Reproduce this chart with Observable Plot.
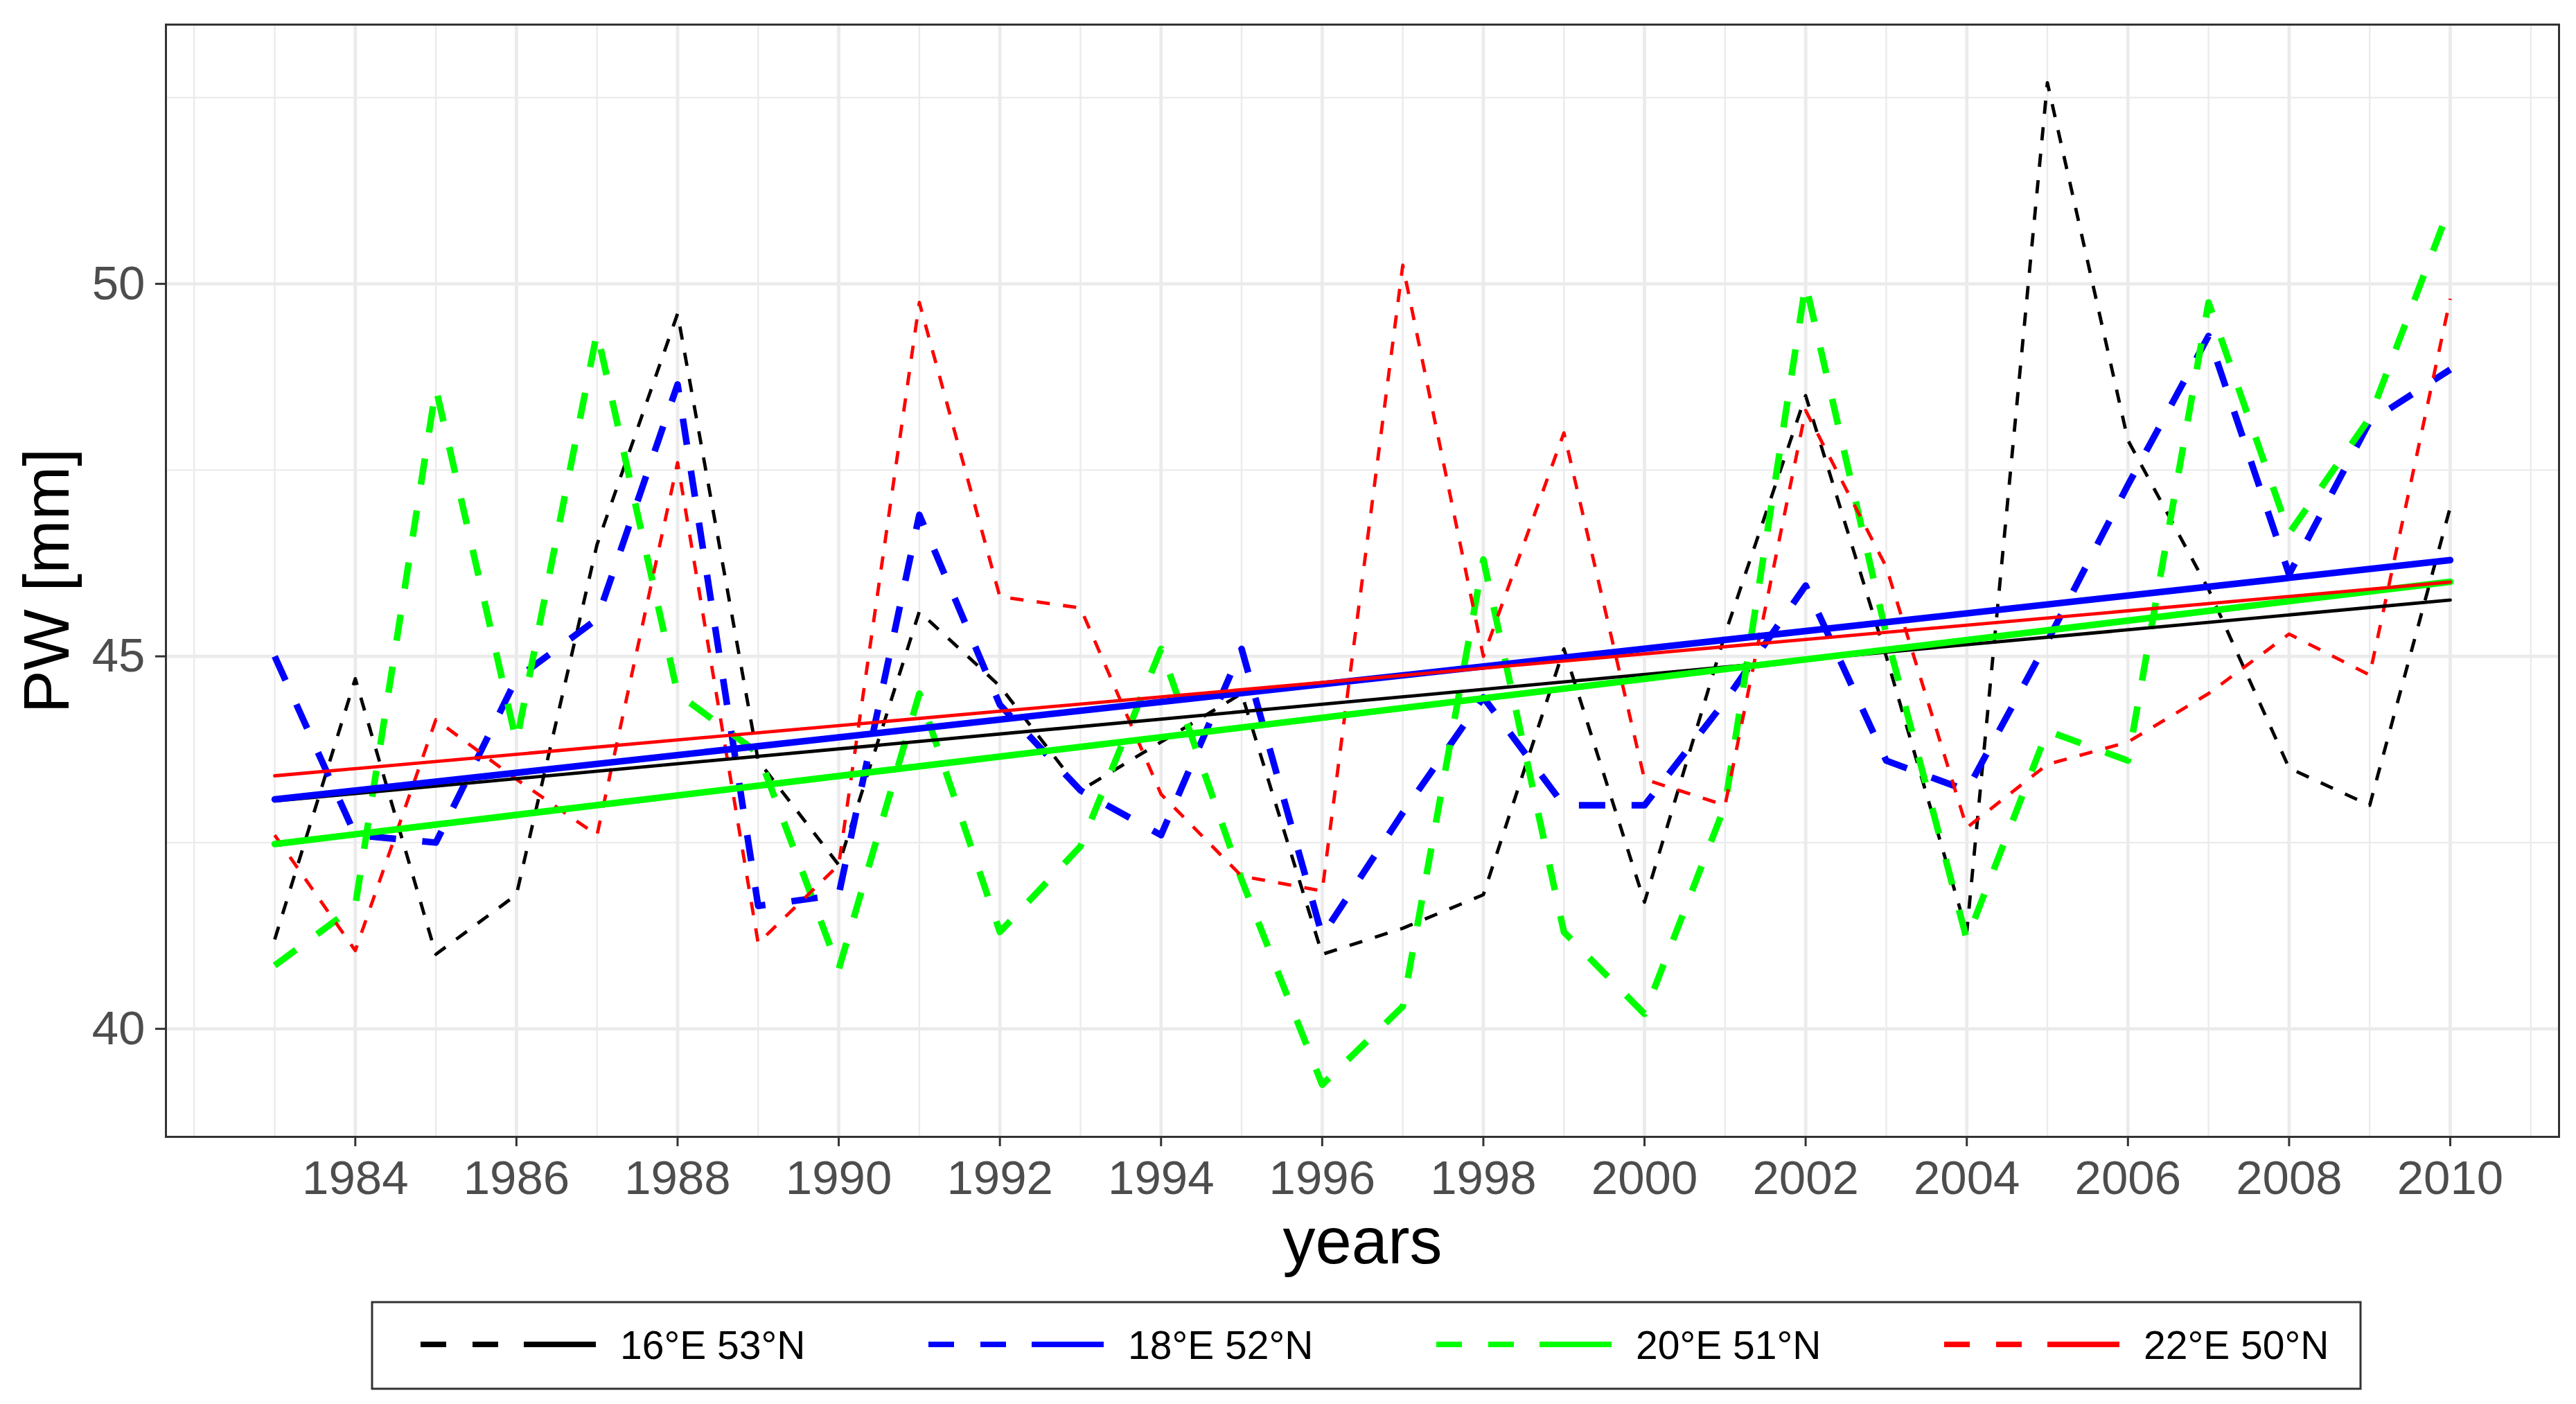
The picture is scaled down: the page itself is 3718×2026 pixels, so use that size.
<!DOCTYPE html>
<html><head><meta charset="utf-8">
<script src="https://cdn.jsdelivr.net/npm/d3@7"></script>
<script src="https://cdn.jsdelivr.net/npm/@observablehq/plot@0.6"></script>
<style>
html,body{margin:0;padding:0;background:#fff;}
#wrap{position:relative;width:3718px;height:2026px;overflow:hidden;background:#fff;font-family:"Liberation Sans",Arial,sans-serif;}
#legend{position:absolute;left:0;top:1860px;}
</style>
</head><body><div id="wrap"><div id="chart"></div><div id="legend"></div></div>
<script>
const years = [1983,1984,1985,1986,1987,1988,1989,1990,1991,1992,1993,1994,1995,1996,1997,1998,1999,2000,2001,2002,2003,2004,2005,2006,2007,2008,2009,2010];
const pw16E53N = [41.2,44.7,41.0,41.8,46.5,49.6,43.6,42.2,45.6,44.6,43.2,43.85,44.5,41.0,41.35,41.8,45.1,41.7,45.3,48.5,45.0,41.3,52.7,47.9,45.9,43.5,43.0,47.0];
const pw18E52N = [45.0,42.6,42.5,44.7,45.5,48.65,41.65,41.8,46.9,44.35,43.2,42.6,45.1,41.25,42.9,44.45,43.0,43.0,44.4,45.95,43.6,43.2,45.2,47.3,49.3,46.1,48.15,48.85];
const pw20E51N = [40.85,41.65,48.6,43.85,49.35,44.5,43.7,40.8,44.5,41.3,42.45,45.1,42.0,39.25,40.3,46.3,41.3,40.2,43.0,50.0,45.3,41.2,44.0,43.6,49.75,46.65,48.2,51.05];
const pw22E50N = [42.6,41.05,44.15,43.35,42.6,47.6,41.15,42.2,49.75,45.8,45.65,43.15,42.05,41.85,50.25,45.0,48.0,43.35,43.0,48.3,46.2,42.7,43.55,43.85,44.5,45.3,44.75,49.8];
const seriesNames = ["16°E 53°N","18°E 52°N","20°E 51°N","22°E 50°N"];
const seriesValues = [pw16E53N, pw18E52N, pw20E51N, pw22E50N];
const seriesColors = ["#000000","#0000FF","#00FF00","#FF0000"];
const seriesWidths = [4.8, 9.5, 9.5, 4.8];
const xTicks = [1984,1986,1988,1990,1992,1994,1996,1998,2000,2002,2004,2006,2008,2010];
const xMinor = [1982,1983,1985,1987,1989,1991,1993,1995,1997,1999,2001,2003,2005,2007,2009,2011];
const yTicks = [40,45,50];
const yMinor = [42.5,47.5,52.5];
const xLabel = "years";
const yLabel = "PW [mm]";

const rows = [];
seriesNames.forEach((s, i) => years.forEach((y, j) => rows.push({series: s, year: y, pw: seriesValues[i][j]})));

const lineMarks = seriesNames.map((s, i) => Plot.line(rows.filter(d => d.series === s), {
  x: "year", y: "pw", stroke: seriesColors[i], strokeWidth: seriesWidths[i],
  strokeDasharray: `${seriesWidths[i]*4},${seriesWidths[i]*4}`, strokeLinejoin: "round", strokeLinecap: "butt"
}));
const trendMarks = seriesNames.map((s, i) => Plot.linearRegressionY(rows.filter(d => d.series === s), {
  x: "year", y: "pw", stroke: seriesColors[i], strokeWidth: seriesWidths[i], ci: 0
}));

const chart = Plot.plot({
  width: 3718, height: 1860,
  marginLeft: 239, marginRight: 25, marginTop: 35, marginBottom: 220,
  style: {fontFamily: '"Liberation Sans", Arial, sans-serif', background: "#fff"},
  x: {domain: [1981.65, 2011.35], label: null},
  y: {domain: [38.55, 53.48], label: null},
  marks: [
    Plot.gridX(xMinor, {stroke: "#EBEBEB", strokeOpacity: 1, strokeWidth: 2.4}),
    Plot.gridY(yMinor, {stroke: "#EBEBEB", strokeOpacity: 1, strokeWidth: 2.4}),
    Plot.gridX(xTicks, {stroke: "#EBEBEB", strokeOpacity: 1, strokeWidth: 4.8}),
    Plot.gridY(yTicks, {stroke: "#EBEBEB", strokeOpacity: 1, strokeWidth: 4.8}),
    ...lineMarks,
    ...trendMarks,
    Plot.frame({stroke: "#333333", strokeWidth: 3}),
    Plot.axisX(xTicks, {anchor: "bottom", tickSize: 14, tickPadding: 19, fontSize: 69, stroke: "#333333", strokeWidth: 3, color: "#4D4D4D", label: null, tickFormat: d => String(d)}),
    Plot.axisY(yTicks, {anchor: "left", tickSize: 15, tickPadding: 15, fontSize: 69, stroke: "#333333", strokeWidth: 3, color: "#4D4D4D", label: null, tickFormat: d => String(d)}),
    Plot.text([xLabel], {frameAnchor: "bottom", dy: 182, lineAnchor: "bottom", fontSize: 94, fill: "#000"}),
    Plot.text([yLabel], {frameAnchor: "left", dx: -141, rotate: -90, lineAnchor: "bottom", textAnchor: "middle", fontSize: 93, fill: "#000"})
  ]
});
document.getElementById("chart").appendChild(chart);

// legend below the chart
const lg = d3.select("#legend").append("svg").attr("width", 3718).attr("height", 166);
lg.append("rect").attr("x", 537).attr("y", 19).attr("width", 2870).attr("height", 125)
  .attr("fill", "#fff").attr("stroke", "#333333").attr("stroke-width", 3);
seriesNames.forEach((s, i) => {
  const x0 = 607 + 733 * i, yc = 80;
  const g = lg.append("g");
  g.append("line").attr("x1", x0).attr("x2", x0 + 112).attr("y1", yc).attr("y2", yc)
    .attr("stroke", seriesColors[i]).attr("stroke-width", 8).attr("stroke-dasharray", "37,38");
  g.append("line").attr("x1", x0 + 149).attr("x2", x0 + 253).attr("y1", yc).attr("y2", yc)
    .attr("stroke", seriesColors[i]).attr("stroke-width", 8);
  g.append("text").attr("x", x0 + 288).attr("y", yc + 21).attr("font-size", 57)
    .attr("font-family", '"Liberation Sans", Arial, sans-serif').attr("fill", "#000").text(s);
});
</script>
</body></html>
